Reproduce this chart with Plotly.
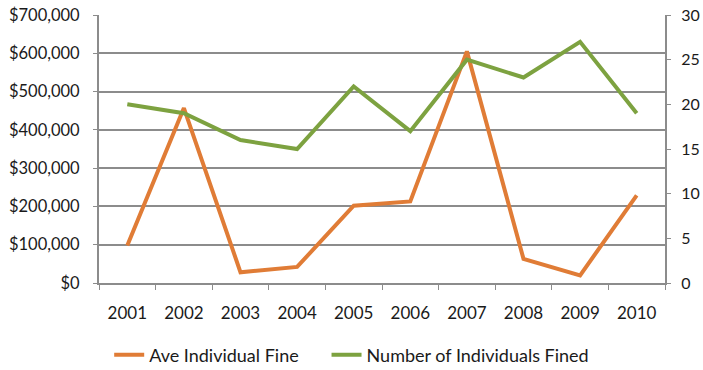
import plotly.graph_objects as go

years = ["2001", "2002", "2003", "2004", "2005", "2006", "2007", "2008", "2009", "2010"]
ave_fine = [98000, 457000, 28000, 42000, 202000, 213000, 605000, 63000, 20000, 229000]
num_fined = [20, 19, 16, 15, 22, 17, 25, 23, 27, 19]

left_ticks = [0, 100000, 200000, 300000, 400000, 500000, 600000, 700000]
left_labels = ["$0", "$100,000", "$200,000", "$300,000", "$400,000", "$500,000", "$600,000", "$700,000"]
right_ticks = [0, 5, 10, 15, 20, 25, 30]

ORANGE = "#E07C36"
GREEN = "#7DA240"
GRID = "#8C8C8C"
FONT = dict(family="Lato, 'Open Sans', sans-serif", size=17, color="#1a1a1a")
LEGEND_FONT = dict(FONT, size=18)

fig = go.Figure()
fig.add_trace(go.Scatter(x=years, y=ave_fine, name="Ave Individual Fine", mode="lines",
                         line=dict(color=ORANGE, width=4), yaxis="y", legend="legend"))
fig.add_trace(go.Scatter(x=years, y=num_fined, name="Number of Individuals Fined", mode="lines",
                         line=dict(color=GREEN, width=4), yaxis="y2", legend="legend2"))

legend_common = dict(orientation="h", y=-0.2, yanchor="top", xanchor="left",
                     font=LEGEND_FONT, bgcolor="rgba(0,0,0,0)")

fig.update_layout(
    width=703, height=370,
    margin=dict(l=99, r=38, t=15, b=87, autoexpand=False),
    paper_bgcolor="white", plot_bgcolor="white",
    font=FONT,
    showlegend=True,
    legend=dict(x=0.018, **legend_common),
    legend2=dict(x=0.402, **legend_common),
    xaxis=dict(type="category", tickson="boundaries", ticks="outside", ticklen=5,
               tickcolor=GRID, showline=True, linecolor=GRID, linewidth=2,
               showgrid=False, ticklabelstandoff=14, range=[-0.5, 9.5]),
    yaxis=dict(range=[0, 700000], tickvals=left_ticks, ticktext=left_labels,
               tickfont=dict(size=16.5),
               showgrid=True, gridcolor=GRID, gridwidth=1.5, zeroline=False,
               showline=True, linecolor=GRID, linewidth=2, ticks="outside",
               ticklen=4, tickcolor=GRID, ticklabelstandoff=10),
    yaxis2=dict(range=[0, 30], tickvals=right_ticks, overlaying="y", side="right",
                tickfont=dict(size=16),
                showgrid=False, zeroline=False, showline=True, linecolor=GRID,
                linewidth=2, ticks="outside", ticklen=4, tickcolor=GRID,
                ticklabelstandoff=7),
)

fig.write_html("out.html")
